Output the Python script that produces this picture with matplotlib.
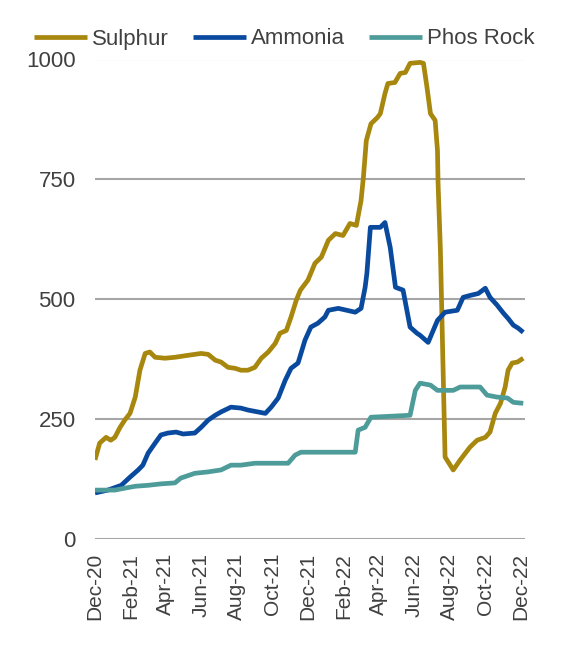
import matplotlib
matplotlib.use("Agg")
import matplotlib.pyplot as plt
import pandas as pd

plt.rcParams['font.family'] = ['Liberation Sans Narrow', 'Liberation Sans', 'DejaVu Sans']

sulphur_dates = ["2020-12-01", "2020-12-09", "2020-12-20", "2020-12-28", "2021-01-04", "2021-01-13",
                 "2021-01-21", "2021-01-30", "2021-02-08", "2021-02-16", "2021-02-25", "2021-03-05",
                 "2021-03-14", "2021-03-31", "2021-04-17", "2021-05-09", "2021-06-01", "2021-06-13",
                 "2021-06-25", "2021-07-05", "2021-07-17", "2021-07-29", "2021-08-08", "2021-08-20",
                 "2021-09-01", "2021-09-12", "2021-09-24", "2021-10-06", "2021-10-14", "2021-10-25",
                 "2021-11-02", "2021-11-11", "2021-11-18", "2021-12-01", "2021-12-13", "2021-12-24",
                 "2022-01-05", "2022-01-17", "2022-01-30", "2022-02-11", "2022-02-22", "2022-03-02",
                 "2022-03-06", "2022-03-11", "2022-03-19", "2022-03-30", "2022-04-04", "2022-04-12",
                 "2022-04-17", "2022-04-29", "2022-05-08", "2022-05-17", "2022-05-25", "2022-06-11",
                 "2022-06-17", "2022-06-23", "2022-06-29", "2022-07-07", "2022-07-11", "2022-07-12",
                 "2022-07-16", "2022-07-24", "2022-08-07", "2022-08-19", "2022-09-05", "2022-09-17",
                 "2022-10-01", "2022-10-09", "2022-10-18", "2022-10-27", "2022-11-04", "2022-11-09",
                 "2022-11-16", "2022-11-25", "2022-12-05"]
sulphur_values = [165, 200, 212, 206, 212, 233,
                  248, 262, 296, 352, 387, 390,
                  379, 377, 379, 383, 387, 385,
                  373, 369, 358, 356, 352, 352,
                  358, 377, 390, 408, 429, 435,
                  463, 498, 519, 540, 575, 588,
                  623, 637, 633, 658, 654, 706,
                  754, 831, 866, 879, 887, 929,
                  950, 952, 971, 973, 992, 994,
                  992, 942, 887, 873, 810, 742,
                  602, 171, 144, 165, 192, 206,
                  212, 223, 262, 283, 317, 352,
                  367, 369, 377]

ammonia_dates = ["2020-12-01", "2020-12-23", "2021-01-15", "2021-01-30", "2021-02-13", "2021-02-21",
                 "2021-03-02", "2021-03-14", "2021-03-24", "2021-04-05", "2021-04-19", "2021-05-01",
                 "2021-05-21", "2021-06-01", "2021-06-13", "2021-06-25", "2021-07-05", "2021-07-22",
                 "2021-08-08", "2021-08-20", "2021-09-19", "2021-09-29", "2021-10-11", "2021-10-23",
                 "2021-11-02", "2021-11-14", "2021-11-26", "2021-12-06", "2021-12-18", "2021-12-30",
                 "2022-01-05", "2022-01-22", "2022-02-20", "2022-03-02", "2022-03-09", "2022-03-12",
                 "2022-03-18", "2022-04-04", "2022-04-12", "2022-04-21", "2022-04-30", "2022-05-13",
                 "2022-05-25", "2022-06-06", "2022-06-11", "2022-06-25", "2022-07-11", "2022-07-24",
                 "2022-08-14", "2022-08-24", "2022-09-05", "2022-09-19", "2022-10-01", "2022-10-09",
                 "2022-10-21", "2022-11-01", "2022-11-09", "2022-11-18", "2022-11-26", "2022-12-05"]
ammonia_values = [96, 102, 112, 129, 144, 154,
                  179, 200, 217, 221, 223, 219,
                  221, 233, 248, 258, 265, 275,
                  273, 269, 262, 275, 294, 331,
                  356, 367, 415, 442, 450, 463,
                  477, 481, 473, 481, 525, 554,
                  650, 650, 660, 608, 525, 519,
                  442, 429, 425, 410, 456, 473,
                  477, 504, 508, 512, 523, 504,
                  488, 471, 460, 446, 440, 431]

phos_dates = ["2020-12-01", "2021-01-04", "2021-01-21", "2021-02-08", "2021-03-02", "2021-03-24",
              "2021-04-17", "2021-04-27", "2021-05-21", "2021-06-13", "2021-07-05", "2021-07-22",
              "2021-08-08", "2021-09-01", "2021-10-28", "2021-11-09", "2021-11-19", "2022-02-20",
              "2022-02-25", "2022-03-09", "2022-03-19", "2022-05-25", "2022-06-03", "2022-06-11",
              "2022-06-29", "2022-07-11", "2022-08-07", "2022-08-19", "2022-09-22", "2022-10-04",
              "2022-10-21", "2022-11-08", "2022-11-18", "2022-12-05"]
phos_values = [102, 102, 106, 110, 112, 115,
               117, 127, 137, 140, 144, 154,
               154, 158, 158, 175, 181, 181,
               227, 233, 254, 258, 310, 325,
               321, 310, 310, 317, 317, 300,
               296, 294, 285, 283]

series_names = ["Sulphur", "Ammonia", "Phos Rock"]
y_ticks = [0, 250, 500, 750, 1000]

colors = ["#A8870F", "#0A4A9E", "#4E9C9A"]
text_color = "#404040"

fig = plt.figure(figsize=(5.64, 6.45), dpi=100)
ax = fig.add_axes([95 / 564, 1 - 539 / 645, 430 / 564, (539 - 59.5) / 645])

data = [(sulphur_dates, sulphur_values), (ammonia_dates, ammonia_values), (phos_dates, phos_values)]
for (d, v), name, c in zip(data, series_names, colors):
    ax.plot(pd.to_datetime(d), v, color=c, lw=3.4, label=name, solid_joinstyle='round',
            solid_capstyle='butt', zorder=3)

ax.set_ylim(0, 1000)
ax.set_yticks(y_ticks)
ax.set_xlim(pd.Timestamp("2020-12-01"), pd.Timestamp("2022-12-08"))
ticks = pd.date_range("2020-12-01", "2022-12-01", freq="2MS")
ax.set_xticks(ticks)
ax.set_xticklabels([t.strftime("%b-%y") for t in ticks], rotation=90, fontsize=15, color=text_color)
ax.tick_params(axis='y', labelsize=16, labelcolor=text_color, length=0, pad=14)
ax.tick_params(axis='x', length=0, pad=10)
ax.grid(axis='y', color='#A6A6A6', lw=1.5, zorder=1)
for s in ax.spines.values():
    s.set_visible(False)

fig.legend(loc='center', bbox_to_anchor=(284 / 564, 1 - 39 / 645), ncol=3, frameon=False,
           fontsize=16, labelcolor=text_color, handlelength=2.4, handletextpad=0.2,
           columnspacing=1.1, borderaxespad=0)

fig.savefig("out.png", dpi=100)
